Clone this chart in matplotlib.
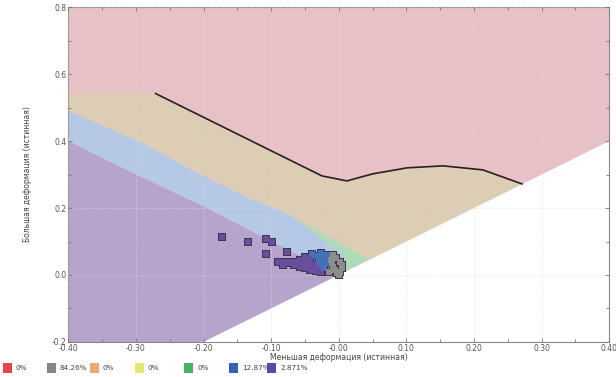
import matplotlib
matplotlib.use("Agg")
import matplotlib.pyplot as plt
import numpy as np

# === Data ===
# black limit curve (minor strain, major strain)
curve_x = [-0.271, -0.025, 0.012, 0.050, 0.101, 0.154, 0.213, 0.271]
curve_y = [0.542, 0.296, 0.281, 0.302, 0.320, 0.326, 0.314, 0.272]

# zone boundaries
tan_top_left_y = 0.542
tan_low_x = [-0.40, -0.295, -0.20, -0.132, -0.075]
tan_low_y = [0.490, 0.398, 0.295, 0.228, 0.182]
green_end = 0.045
blue_low_x = [-0.075, 0.010, 0.010]
blue_low_y = [0.182, 0.055, 0.010]
purple_top_x = [-0.40, -0.30, -0.20, -0.10, 0.0]
purple_top_y = [0.400, 0.300, 0.205, 0.100, 0.0]

# measured points (cells)
purple_x = [-0.173, -0.135, -0.107, -0.099, -0.107, -0.076, -0.072,
            -0.090, -0.082, -0.082, -0.074, -0.066, -0.066, -0.058, -0.058, -0.058,
            -0.050, -0.050, -0.050, -0.050, -0.042, -0.042, -0.042, -0.042,
            -0.034, -0.034, -0.034, -0.026, -0.026]
purple_y = [0.114, 0.099, 0.108, 0.099, 0.063, 0.070, 0.040,
            0.040, 0.040, 0.030, 0.035, 0.040, 0.030, 0.045, 0.035, 0.025,
            0.055, 0.040, 0.030, 0.020, 0.050, 0.035, 0.025, 0.015,
            0.030, 0.020, 0.012, 0.020, 0.010]
blue_x = [-0.040, -0.034, -0.030, -0.030, -0.026, -0.022, -0.022, -0.018, -0.018, -0.014, -0.026]
blue_y = [0.062, 0.058, 0.050, 0.040, 0.032, 0.048, 0.022, 0.036, 0.060, 0.050, 0.066]
gray_x = [-0.012, -0.010, -0.008, -0.005, -0.002, 0.002, 0.004, 0.004, 0.002, -0.014, -0.004, -0.008, 0.000]
gray_y = [0.045, 0.035, 0.025, 0.015, 0.005, 0.040, 0.030, 0.020, 0.010, 0.010, 0.052, 0.060, 0.000]

legend_colors = ["#e84545", "#858585", "#f2a868", "#e6e66a", "#45b264", "#2f62b4", "#6545a5"]
legend_labels = ["0%", "84.26%", "0%", "0%", "0%", "12.87%", "2.871%"]

# === Figure ===
fig = plt.figure(figsize=(6.16, 3.77), dpi=100)
ax = fig.add_axes([0.111, 0.093, 0.878, 0.888])
ax.set_xlim(-0.4, 0.4)
ax.set_ylim(-0.2, 0.8)

# pink background zone
ax.fill([-0.4, 0.4, 0.4, -0.4], [-0.2, -0.2, 0.8, 0.8], color="#e8c1c6", lw=0, zorder=0)

# tan zone
tx = [-0.4, curve_x[0]] + curve_x + [curve_x[-1], green_end] + tan_low_x[::-1]
ty = [tan_top_left_y, tan_top_left_y] + curve_y + [curve_x[-1], green_end] + tan_low_y[::-1]
ax.fill(tx, ty, color="#dccdb4", lw=0, zorder=0.1)

# green zone
gx = [tan_low_x[-1], green_end, blue_low_x[-1], blue_low_x[1]]
gy = [tan_low_y[-1], green_end, blue_low_y[-1], blue_low_y[1]]
ax.fill(gx, gy, color="#acdcb8", lw=0, zorder=0.2)

# blue zone
bx = tan_low_x + blue_low_x[1:] + purple_top_x[::-1]
by = tan_low_y + blue_low_y[1:] + purple_top_y[::-1]
ax.fill(bx, by, color="#b5c9e6", lw=0, zorder=0.3)

# purple zone
px = purple_top_x + [-0.2, -0.4]
py = purple_top_y + [-0.2, -0.2]
ax.fill(px, py, color="#b6a4cc", lw=0, zorder=0.4)

# white (invalid) region below major = minor
ax.fill([-0.2, 0.4, 0.4, -0.2], [-0.2, 0.4, -0.2, -0.2], color="white", lw=0, zorder=0.5)

ax.grid(True, color="#d8d8d8", lw=0.5, ls=(0, (1, 1.5)), zorder=0.6)
ax.set_axisbelow(False)

ax.plot(curve_x, curve_y, color="#2a1f1f", lw=1.2, zorder=3)

# points: dark outline underneath, fill on top
all_x = purple_x + blue_x + gray_x
all_y = purple_y + blue_y + gray_y
ax.scatter(all_x, all_y, marker="s", s=30, color="#3b3848", lw=0, zorder=4)
ax.scatter(purple_x, purple_y, marker="s", s=16, color="#6a4d9e", lw=0, zorder=5)
ax.scatter(blue_x, blue_y, marker="s", s=16, color="#4470b8", lw=0, zorder=5)
ax.scatter(gray_x, gray_y, marker="s", s=16, color="#8c8c8c", lw=0, zorder=5)

ax.set_xticks(np.arange(-0.4, 0.41, 0.1))
ax.set_xticklabels([f"{v:.2f}" for v in np.arange(-0.4, 0.41, 0.1)])
ax.set_yticks(np.arange(-0.2, 0.81, 0.2))
ax.set_yticklabels([f"{v:.1f}" for v in np.arange(-0.2, 0.81, 0.2)])
ax.set_xticks(np.arange(-0.35, 0.4, 0.1), minor=True)
ax.set_yticks(np.arange(-0.1, 0.8, 0.2), minor=True)
ax.tick_params(which="both", direction="in", top=True, right=True, colors="#777777",
               labelsize=5.5, labelcolor="#555555", length=3, width=0.6, pad=1.5)
ax.tick_params(which="minor", length=2)
for s in ax.spines.values():
    s.set_color("#888888")
    s.set_linewidth(0.8)

ax.set_xlabel("Меньшая деформация (истинная)", fontsize=5.5, color="#444444", labelpad=0)
ax.set_ylabel("Большая деформация (истинная)", fontsize=5.5, color="#444444", labelpad=14)

# legend strip at bottom
leg_x = [3, 47, 90, 135, 184, 229, 267]
for xpx, c, lab in zip(leg_x, legend_colors, legend_labels):
    fig.patches.append(plt.Rectangle((xpx / 616, 0.0115), 9 / 616, 10 / 377,
                                     transform=fig.transFigure, color=c, lw=0))
    fig.text((xpx + 13) / 616, 0.024, lab, fontsize=5.2, color="#444444", va="center")

fig.savefig("out.png", dpi=100)
